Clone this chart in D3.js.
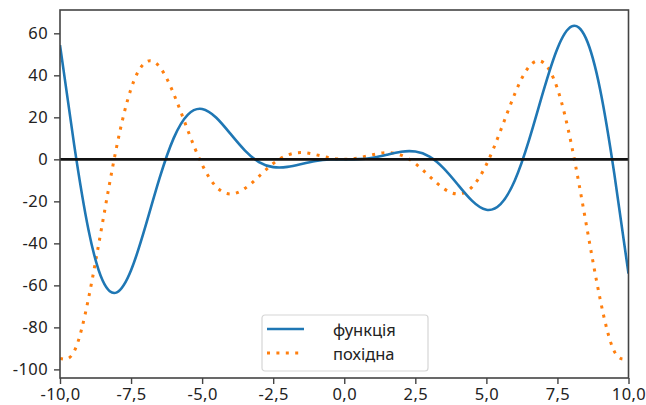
<!DOCTYPE html>
<html>
<head>
<meta charset="utf-8">
<script src="https://cdn.jsdelivr.net/npm/d3@7"></script>
<style>
  body { margin: 0; background: #fff; }
  svg text { font-family: "Noto Sans", "DejaVu Sans", sans-serif; fill: #222; }
</style>
</head>
<body>
<svg id="chart" width="646" height="405"></svg>
<script>
// x samples, every 0.5
var xValues = [-10, -9.5, -9, -8.5, -8, -7.5, -7, -6.5, -6, -5.5, -5, -4.5, -4, -3.5, -3, -2.5, -2, -1.5, -1, -0.5,
  0, 0.5, 1, 1.5, 2, 2.5, 3, 3.5, 4, 4.5, 5, 5.5, 6, 6.5, 7, 7.5, 8, 8.5, 9, 9.5, 10];

// функція
var funcValues = [54.4, 6.8, -33.4, -57.7, -63.3, -52.8, -32.2, -9.1, 10.1, 21.3, 24.0, 19.8, 12.1, 4.3, -1.3, -3.7, -3.6, -2.2, -0.8, -0.1,
  0, 0.1, 0.8, 2.2, 3.6, 3.7, 1.3, -4.3, -12.1, -19.8, -24.0, -21.3, -10.1, 9.1, 32.2, 52.8, 63.3, 57.7, 33.4, -6.8, -54.4];

// похідна
var derivValues = [-94.8, -91.4, -66.4, -29.9, 6.5, 33.6, 46.1, 44.1, 31.2, 13.7, -2.5, -13.1, -16.5, -13.9, -8.1, -2.0, 2.0, 3.2, 2.2, 0.7,
  0, 0.7, 2.2, 3.2, 2.0, -2.0, -8.1, -13.9, -16.5, -13.1, -2.5, 13.7, 31.2, 44.1, 46.1, 33.6, 6.5, -29.9, -66.4, -91.4, -94.8];

var xTicks = [-10, -7.5, -5, -2.5, 0, 2.5, 5, 7.5, 10];
var yTicks = [-100, -80, -60, -40, -20, 0, 20, 40, 60];
var seriesNames = ['функція', 'похідна'];

var svg = d3.select('#chart');
var plotLeft = 60, plotRight = 628.5, plotTop = 10, plotBottom = 378;

var x = d3.scaleLinear().domain([-10, 10]).range([plotLeft, plotRight]);
var y = d3.scaleLinear().domain([-104.1, 71.1]).range([plotBottom, plotTop]);

var fmt = function (d) {
  return d3.format('.1f')(d).replace('.', ',').replace('−', '-');
};

svg.append('defs').append('clipPath').attr('id', 'clip')
  .append('rect')
  .attr('x', plotLeft).attr('y', plotTop)
  .attr('width', plotRight - plotLeft).attr('height', plotBottom - plotTop);

// axes
var xAxis = svg.append('g')
  .attr('transform', 'translate(0,' + plotBottom + ')')
  .call(d3.axisBottom(x).tickValues(xTicks).tickFormat(fmt).tickSize(6).tickPadding(4));
var yAxis = svg.append('g')
  .attr('transform', 'translate(' + plotLeft + ',0)')
  .call(d3.axisLeft(y).tickValues(yTicks).tickFormat(function (d) { return String(d); }).tickSize(6).tickPadding(6));

[xAxis, yAxis].forEach(function (a) {
  a.select('.domain').remove();
  a.selectAll('.tick line').attr('stroke', '#444').attr('stroke-width', 1.4);
  a.selectAll('.tick text')
    .style('font-size', '16.5px')
    .style('letter-spacing', '0.4px')
    .attr('fill', '#222');
});
xAxis.selectAll('.tick text').attr('dy', '0.7em');

var line = function (vals) {
  return d3.line()
    .x(function (d, i) { return x(xValues[i]); })
    .y(function (d) { return y(d); })
    .curve(d3.curveNatural)(vals);
};

var plot = svg.append('g').attr('clip-path', 'url(#clip)');

plot.append('path')
  .attr('d', line(derivValues))
  .attr('fill', 'none')
  .attr('stroke', '#ff7f0e')
  .attr('stroke-width', 3)
  .attr('stroke-dasharray', '3 6.4');

plot.append('path')
  .attr('d', line(funcValues))
  .attr('fill', 'none')
  .attr('stroke', '#1f77b4')
  .attr('stroke-width', 2.6);

// zero line
plot.append('line')
  .attr('x1', plotLeft).attr('x2', plotRight)
  .attr('y1', y(0)).attr('y2', y(0))
  .attr('stroke', '#111')
  .attr('stroke-width', 2.8);

// frame
svg.append('rect')
  .attr('x', plotLeft).attr('y', plotTop)
  .attr('width', plotRight - plotLeft).attr('height', plotBottom - plotTop)
  .attr('fill', 'none')
  .attr('stroke', '#444')
  .attr('stroke-width', 1.6);

// legend
var legend = svg.append('g').attr('transform', 'translate(262,315)');
legend.append('rect')
  .attr('width', 166).attr('height', 56)
  .attr('rx', 3)
  .attr('fill', '#fff').attr('fill-opacity', 0.8)
  .attr('stroke', '#d6d6d6').attr('stroke-width', 1.2);

var item = legend.selectAll('g.item')
  .data(seriesNames)
  .enter()
  .append('g')
  .attr('class', 'item')
  .attr('transform', function (d, i) { return 'translate(0,' + (14 + i * 24) + ')'; });

item.append('line')
  .attr('x1', 5).attr('x2', 42)
  .attr('y1', 0).attr('y2', 0)
  .attr('stroke', function (d, i) { return i === 0 ? '#1f77b4' : '#ff7f0e'; })
  .attr('stroke-width', function (d, i) { return i === 0 ? 2.6 : 3; })
  .attr('stroke-dasharray', function (d, i) { return i === 0 ? null : '3 6.4'; });

item.append('text')
  .attr('x', 71)
  .attr('y', 7)
  .style('font-size', '16.5px')
  .text(function (d) { return d; });
</script>
</body>
</html>
